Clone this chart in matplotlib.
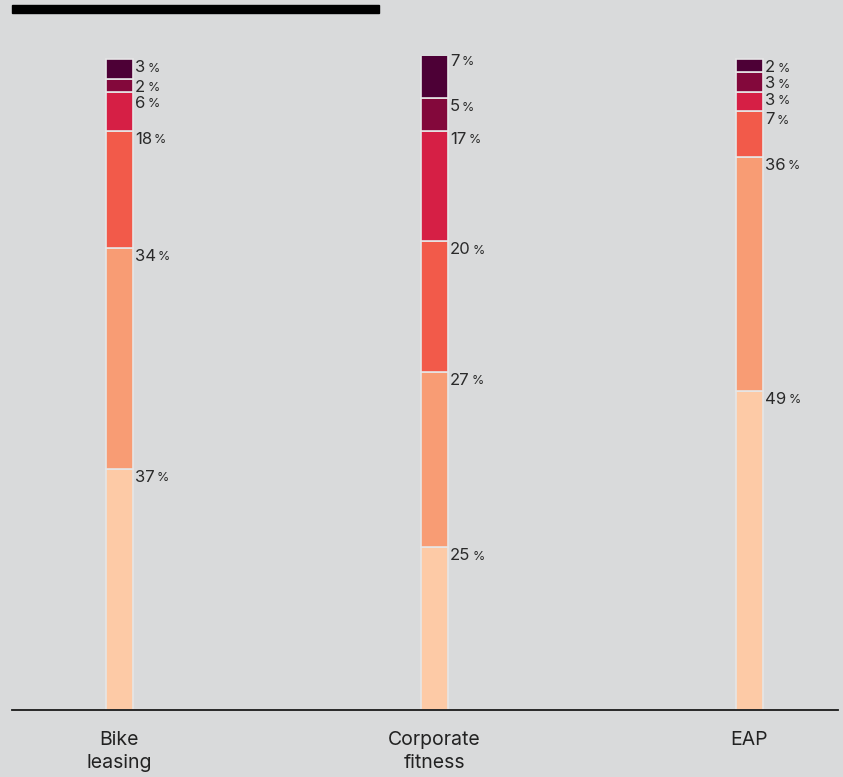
import matplotlib.pyplot as plt
from matplotlib.patches import Rectangle

plt.rcParams['font.family'] = ['Inter', 'DejaVu Sans']

categories = ['Bike\nleasing', 'Corporate\nfitness', 'EAP']
# shares per level, bottom to top
level1 = [37, 25, 49]
level2 = [34, 27, 36]
level3 = [18, 20, 7]
level4 = [6, 17, 3]
level5 = [2, 5, 3]
level6 = [3, 7, 2]
series = [level1, level2, level3, level4, level5, level6]
colors = ['#fdcaa6', '#f89c74', '#f25a4a', '#d61f45', '#83083b', '#4d0036']

bg = '#d9dadb'
W, H = 843, 777
fig = plt.figure(figsize=(W / 100, H / 100), dpi=100, facecolor=bg)
ax = fig.add_axes([12 / W, 67 / H, 826 / W, 654 / H])
ax.set_facecolor(bg)
ymax = 100.5
px_per_unit = 654 / ymax

x = list(range(len(categories)))
bw = 27 / 315
bottoms = [0] * len(categories)
tops = [[] for _ in categories]
for vals, col in zip(series, colors):
    ax.bar(x, vals, bw, bottom=bottoms, color=col, edgecolor='#e6e6e6', linewidth=1.2)
    for i, v in enumerate(vals):
        tops[i].append((bottoms[i] + v, v))
    bottoms = [b + v for b, v in zip(bottoms, vals)]

# value labels at the top of each segment, pushed down where they would collide
min_gap = 16
for i, segs in enumerate(tops):
    last_px = None
    for top, v in sorted(segs, reverse=True):
        top_px = top * px_per_unit
        if last_px is not None and last_px - top_px < min_gap:
            top_px = last_px - min_gap
        last_px = top_px
        shift = top_px - top * px_per_unit
        t = ax.annotate(str(v), xy=(x[i] + bw / 2, top), xytext=(2, shift - 1),
                        textcoords='offset pixels', ha='left', va='top',
                        fontsize=12, color='#2a2a2a', annotation_clip=False)
        ax.annotate('%', xy=(1, 0.05), xycoords=t, xytext=(2, 0),
                    textcoords='offset pixels', ha='left', va='bottom',
                    fontsize=9, color='#2a2a2a', annotation_clip=False)

ax.set_xlim(-107.5 / 315, 2 + 88.5 / 315)
ax.set_ylim(0, ymax)
for s in ['top', 'right', 'left']:
    ax.spines[s].set_visible(False)
ax.spines['bottom'].set_color('#1a1a1a')
ax.spines['bottom'].set_linewidth(1.3)
ax.set_yticks([])
ax.set_xticks(x)
ax.set_xticklabels(categories, fontsize=14, color='#222222', linespacing=1.4)
ax.tick_params(axis='x', length=0, pad=15)

# heading rule
fig.add_artist(Rectangle((12 / W, 1 - 13 / H), 367 / W, 8 / H,
                         transform=fig.transFigure, color='black'))

fig.savefig('out.png', dpi=100, facecolor=bg)
